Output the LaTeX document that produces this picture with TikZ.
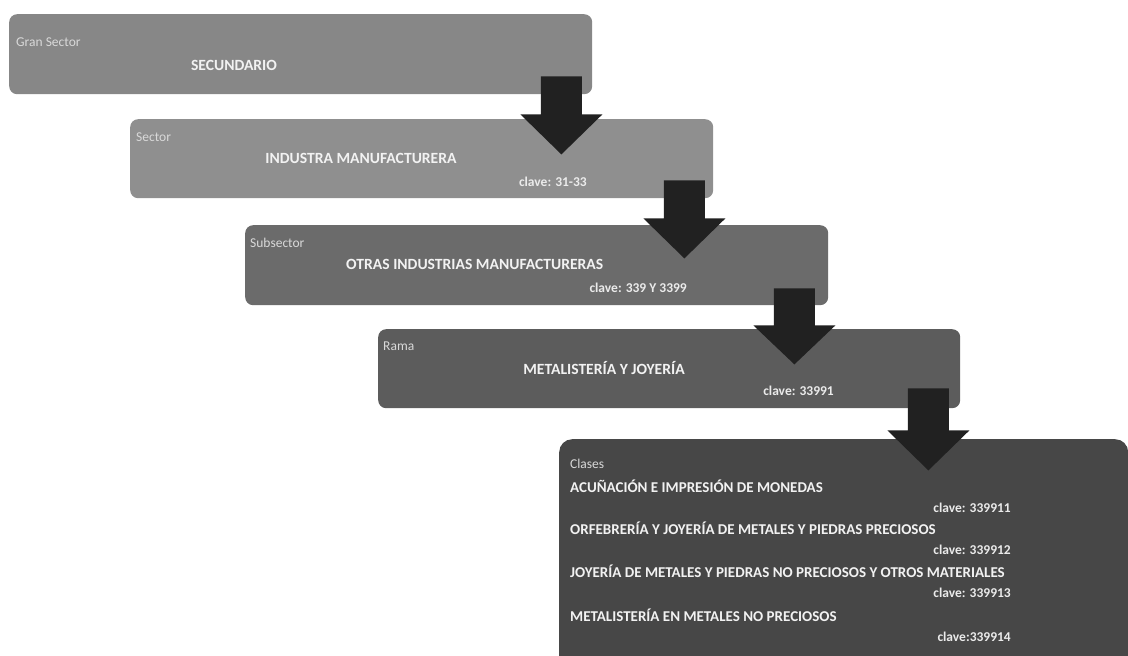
\documentclass[tikz,border=0pt]{standalone}
\usepackage{fontspec}
\setmainfont{Carlito}
\tikzset{
  nivel/.style={rectangle,rounded corners=8pt,anchor=north west,inner sep=0pt,minimum width=583pt,minimum height=80pt},
  etiqueta/.style={anchor=west,inner sep=0pt,text=black!15,font=\fontsize{13.5}{16}\selectfont},
  titulo/.style={inner sep=0pt,text=black!5,font=\bfseries\fontsize{15.6}{18}\selectfont},
  clase/.style={anchor=west,inner sep=0pt,text=black!5,font=\bfseries\fontsize{15}{18}\selectfont},
  clave/.style={anchor=east,inner sep=0pt,text=black!8,font=\bfseries\fontsize{13.5}{16}\selectfont},
  flecha/.style={fill=black!87},
}
\begin{document}
\begin{tikzpicture}[x=1pt,y=-1pt]
\useasboundingbox (0,0) rectangle (1128,656);
\clip (0,0) rectangle (1128,656);
% niveles
\node[nivel,fill=black!47] (b1) at (9,14) {};
\node[nivel,fill=black!44,minimum height=79pt] (b2) at (130,119) {};
\node[nivel,fill=black!58] (b3) at (245,225) {};
\node[nivel,fill=black!64,minimum width=582pt,minimum height=79pt] (b4) at (378,329) {};
\node[nivel,fill=black!72,rounded corners=13pt,minimum width=569pt,minimum height=230pt] (b5) at (559,439) {};
% textos
\node[etiqueta] (l1) at (16,42) {Gran Sector};
\node[titulo] (t1) at (234,65) {SECUNDARIO};
\node[etiqueta] (l2) at (136,137) {Sector};
\node[titulo] (t2) at (361,158) {INDUSTRA MANUFACTURERA};
\node[clave] (c2) at (587,182) {clave: 31-33};
\node[etiqueta] (l3) at (250,243) {Subsector};
\node[titulo,anchor=west] (t3) at (346,264) {OTRAS INDUSTRIAS MANUFACTURERAS};
\node[clave] (c3) at (687,288) {clave: 339 Y 3399};
\node[etiqueta] (l4) at (383,346) {Rama};
\node[titulo] (t4) at (604,368) {METALISTERÍA Y JOYERÍA};
\node[clave] (c4) at (834,391) {clave: 33991};
\node[etiqueta] (l5) at (570,464) {Clases};
\node[clase] (k1) at (570,486) {ACUÑACIÓN E IMPRESIÓN DE MONEDAS};
\node[clave] (n1) at (1011,508) {clave: 339911};
\node[clase] (k2) at (570,528) {ORFEBRERÍA Y JOYERÍA DE METALES Y PIEDRAS PRECIOSOS};
\node[clave] (n2) at (1011,550) {clave: 339912};
\node[clase] (k3) at (570,571) {JOYERÍA DE METALES Y PIEDRAS NO PRECIOSOS Y OTROS MATERIALES};
\node[clave] (n3) at (1011,593) {clave: 339913};
\node[clase] (k4) at (570,615) {METALISTERÍA EN METALES NO PRECIOSOS};
\node[clave] (n4) at (1011,637) {clave:339914};
% flechas
\fill[flecha] ([shift={(-51.5,-18)}]b1.south east) -- ++(41,0) -- ++(0,38) -- ++(20.5,0) -- ++(-41,40) -- ++(-41,-40) -- ++(20.5,0) -- cycle;
\fill[flecha] ([shift={(-49.5,-18)}]b2.south east) -- ++(41,0) -- ++(0,38) -- ++(20.5,0) -- ++(-41,40) -- ++(-41,-40) -- ++(20.5,0) -- cycle;
\fill[flecha] ([shift={(-54.5,-17)}]b3.south east) -- ++(41,0) -- ++(0,37) -- ++(20.5,0) -- ++(-41,39) -- ++(-41,-39) -- ++(20.5,0) -- cycle;
\fill[flecha] ([shift={(-52.5,-20)}]b4.south east) -- ++(41,0) -- ++(0,42) -- ++(20.5,0) -- ++(-41,40) -- ++(-41,-40) -- ++(20.5,0) -- cycle;
\end{tikzpicture}
\end{document}
